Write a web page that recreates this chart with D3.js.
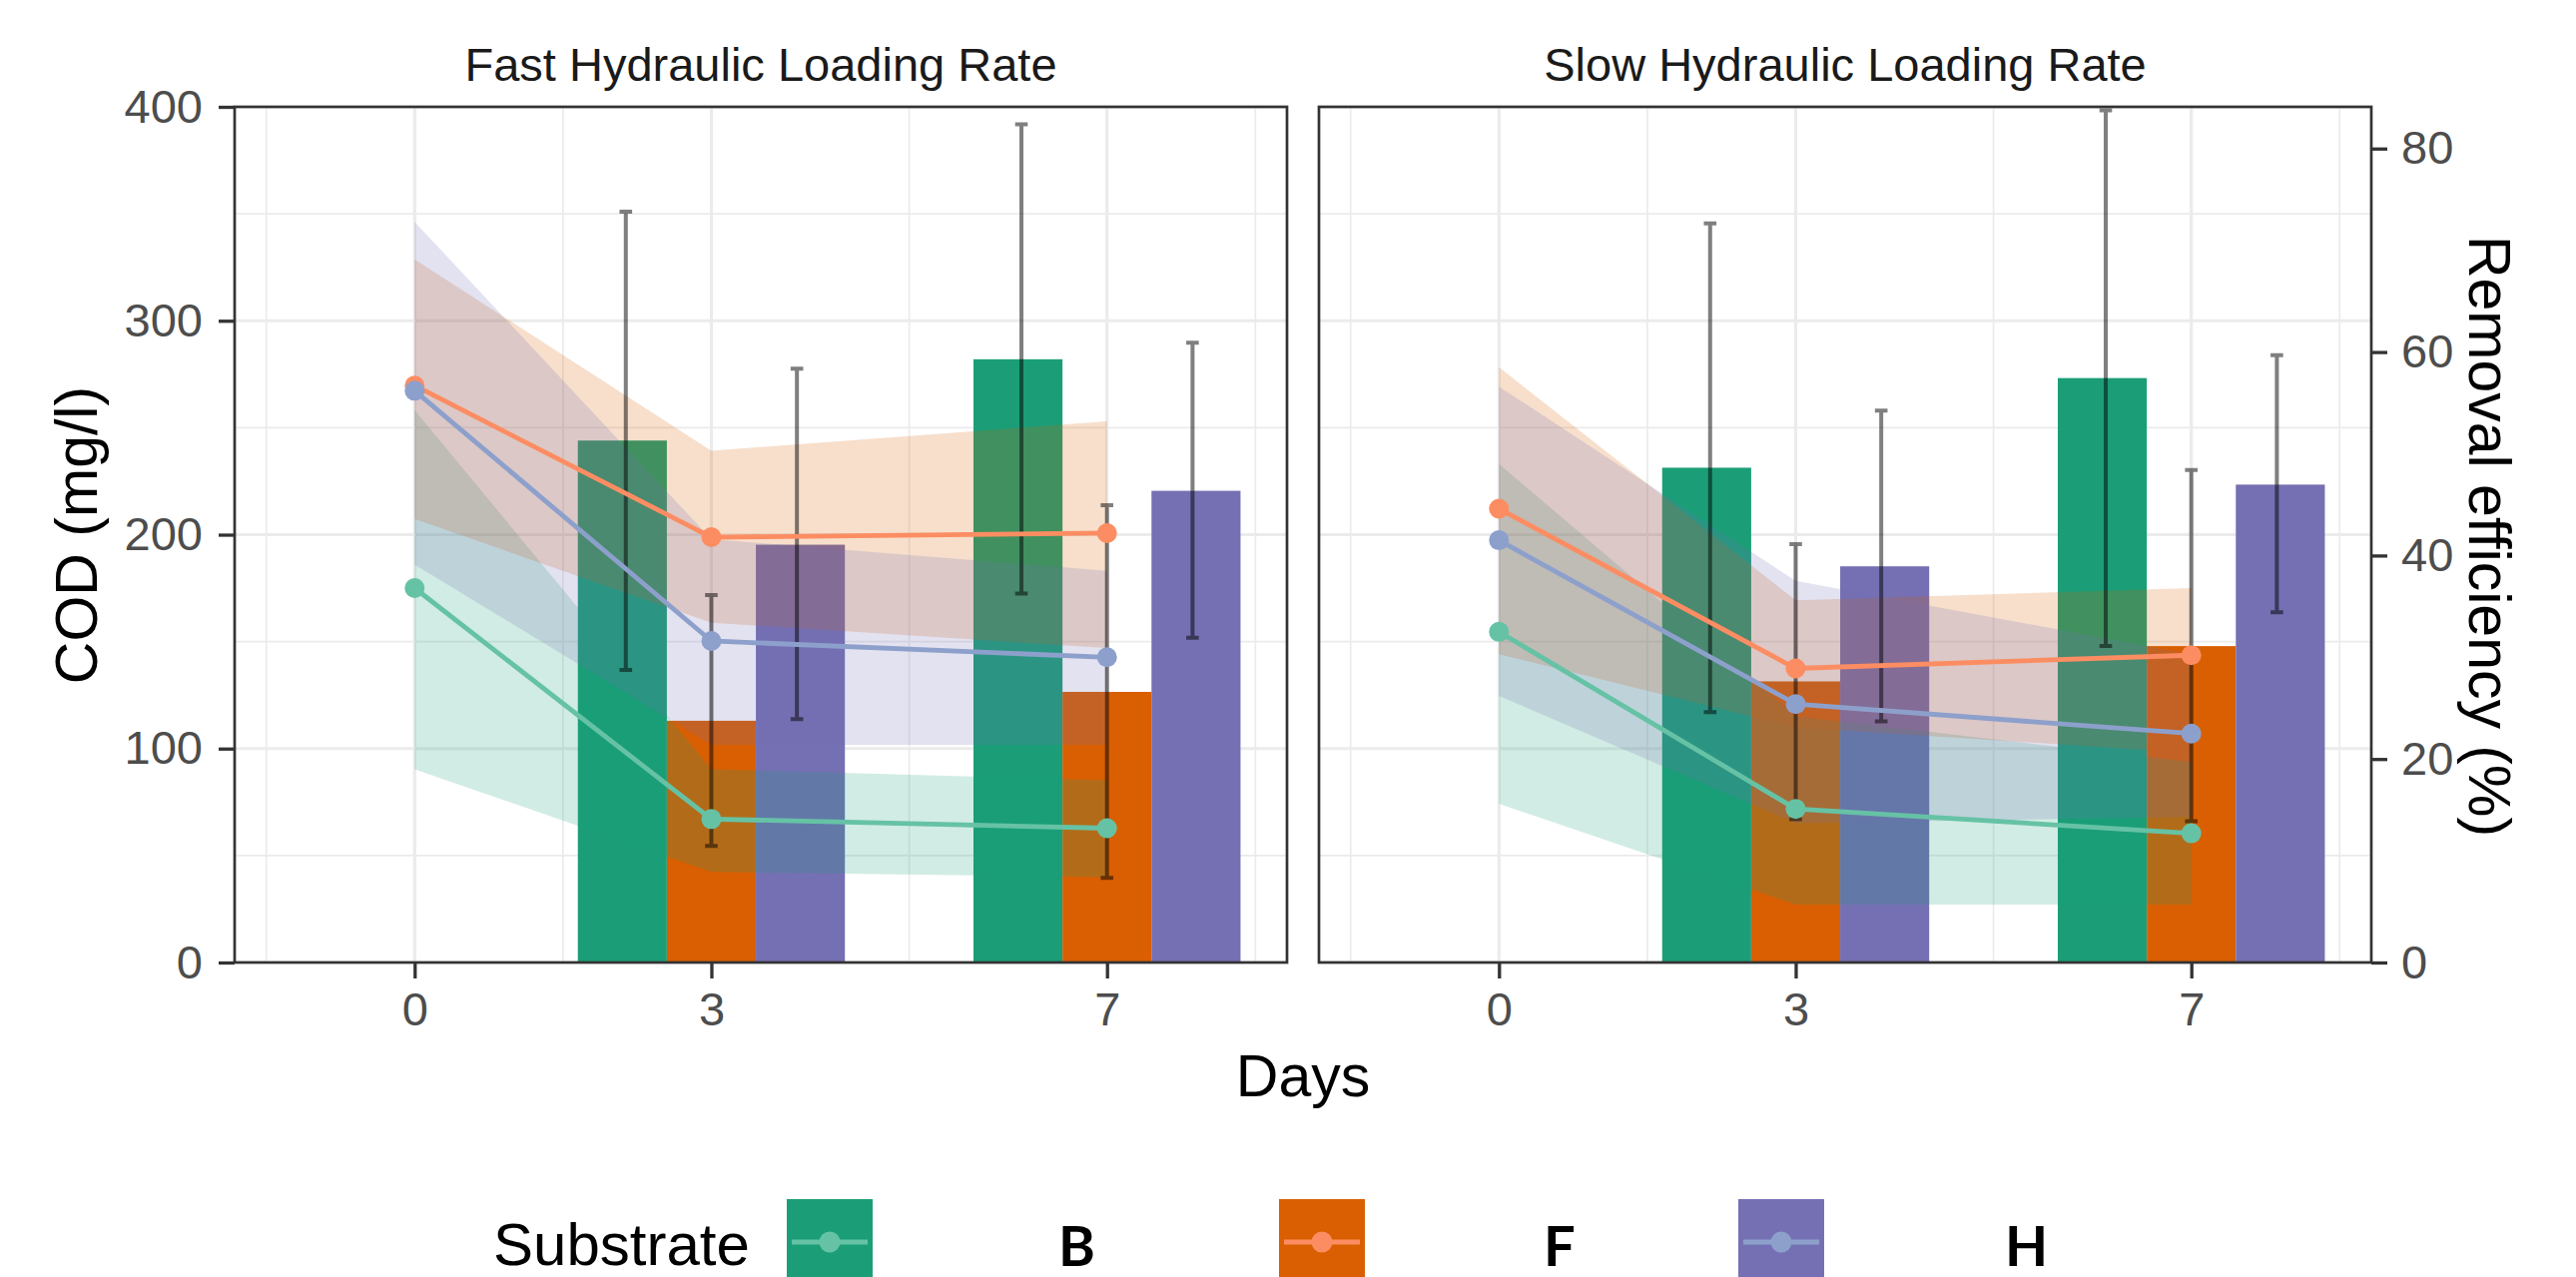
<!DOCTYPE html>
<html>
<head>
<meta charset="utf-8">
<script src="https://cdn.jsdelivr.net/npm/d3@7"></script>
<style>
  body { margin: 0; background: #ffffff; }
  svg { display: block; font-family: "Liberation Sans", Arial, sans-serif; }
</style>
</head>
<body>
<svg id="chart" width="2580" height="1279"></svg>
<script>
// Facets, categories and ticks
var facets = ['Fast Hydraulic Loading Rate', 'Slow Hydraulic Loading Rate'];
var substrates = ['B', 'F', 'H'];
var barDays = [3, 7];
var lineDays = [0, 3, 7];
var dayTicks = [0, 3, 7];
var dayMinor = [-1.5, 1.5, 5, 8.5];
var codTicks = [0, 100, 200, 300, 400];
var codMinor = [50, 150, 250, 350];
var effTicks = [0, 20, 40, 60, 80];

// COD bars (mg/l), one row per substrate, columns = barDays
var codFast = [[244, 282], [113, 126.5], [195.3, 220.5]];
var codSlow = [[231.3, 273.2], [131.4, 147.9], [185.2, 223.4]];
// error bar ends
var codLowFast = [[136.8, 172.5], [54.5, 39.6], [113.8, 151.8]];
var codHighFast = [[351, 391.8], [171.8, 213.8], [277.6, 289.7]];
var codLowSlow = [[117, 147.9], [67, 66.1], [112.7, 163.7]];
var codHighSlow = [[345.5, 398.4], [195.6, 230.2], [258, 283.9]];

// Removal efficiency (%), columns = lineDays
var effFast = [[36.8, 14.1, 13.2], [56.7, 41.8, 42.2], [56.2, 31.6, 30.0]];
var effSlow = [[32.5, 15.1, 12.7], [44.6, 28.9, 30.2], [41.5, 25.4, 22.5]];
// ribbon bands
var effLowFast = [[19.0, 8.9, 8.4], [43.6, 33.4, 30.9], [39.1, 21.4, 21.4]];
var effHighFast = [[54.3, 19.0, 17.9], [69.1, 50.3, 53.2], [72.8, 41.6, 38.5]];
var effLowSlow = [[15.6, 5.7, 5.7], [30.3, 23.1, 20.6], [26.2, 13.7, 14.3]];
var effHighSlow = [[49.0, 24.2, 19.7], [58.5, 35.6, 36.8], [56.6, 37.5, 30.3]];

var barColors = ['#1b9e77', '#d95f02', '#7570b3'];
var lineColors = ['#66c2a5', '#fc8d62', '#8da0cb'];

var panels = [
    { cod: codFast, lo: codLowFast, hi: codHighFast, eff: effFast, effLo: effLowFast, effHi: effHighFast, range: [235, 1289] },
    { cod: codSlow, lo: codLowSlow, hi: codHighSlow, eff: effSlow, effLo: effLowSlow, effHi: effHighSlow, range: [1321, 2375] }
];

var panelTop = 107, panelBottom = 964;
var svg = d3.select('#chart');

var y = d3.scaleLinear().domain([0, 400]).range([panelBottom, panelTop]);
var yEff = d3.scaleLinear().domain([0, 84.1]).range([panelBottom, panelTop]);

var barWidth = 0.9;     // in days
var errDodge = 0.865;   // errorbars dodge slightly narrower than bars

panels.forEach(function(p, i) {
    var x = d3.scaleLinear().domain([-1.82, 8.82]).range(p.range);
    var g = svg.append('g');

    svg.append('clipPath').attr('id', 'clip' + i)
        .append('rect')
        .attr('x', p.range[0]).attr('y', panelTop)
        .attr('width', p.range[1] - p.range[0]).attr('height', panelBottom - panelTop);

    var plot = g.append('g').attr('clip-path', 'url(#clip' + i + ')');

    // grid
    plot.selectAll('.hminor').data(codMinor).join('line')
        .attr('x1', p.range[0]).attr('x2', p.range[1])
        .attr('y1', d => y(d)).attr('y2', d => y(d))
        .attr('stroke', '#ebebeb').attr('stroke-width', 1.7);
    plot.selectAll('.vminor').data(dayMinor).join('line')
        .attr('x1', d => x(d)).attr('x2', d => x(d))
        .attr('y1', panelTop).attr('y2', panelBottom)
        .attr('stroke', '#ebebeb').attr('stroke-width', 1.7);
    plot.selectAll('.hmajor').data(codTicks).join('line')
        .attr('x1', p.range[0]).attr('x2', p.range[1])
        .attr('y1', d => y(d)).attr('y2', d => y(d))
        .attr('stroke', '#ebebeb').attr('stroke-width', 3.2);
    plot.selectAll('.vmajor').data(dayTicks).join('line')
        .attr('x1', d => x(d)).attr('x2', d => x(d))
        .attr('y1', panelTop).attr('y2', panelBottom)
        .attr('stroke', '#ebebeb').attr('stroke-width', 3.2);

    // bars
    var bars = [];
    p.cod.forEach(function(row, k) {
        row.forEach(function(v, j) {
            bars.push({ k: k, day: barDays[j], v: v, lo: p.lo[k][j], hi: p.hi[k][j] });
        });
    });
    plot.selectAll('rect.bar').data(bars).join('rect')
        .attr('class', 'bar')
        .attr('x', d => x(d.day + (d.k - 1) * barWidth - barWidth / 2))
        .attr('width', x(barWidth) - x(0))
        .attr('y', d => y(d.v))
        .attr('height', d => y(0) - y(d.v))
        .attr('fill', d => barColors[d.k]);

    // ribbons (dark palette, light alpha)
    var area = d3.area()
        .x(d => x(d.day))
        .y0(d => yEff(d.lo))
        .y1(d => yEff(d.hi));
    substrates.forEach(function(s, k) {
        var pts = lineDays.map((day, j) => ({ day: day, lo: p.effLo[k][j], hi: p.effHi[k][j] }));
        plot.append('path').datum(pts)
            .attr('d', area)
            .attr('fill', barColors[k])
            .attr('fill-opacity', 0.2);
    });

    // error bars
    var cap = 6.3;
    plot.selectAll('path.err').data(bars).join('path')
        .attr('class', 'err')
        .attr('d', function(d) {
            var cx = x(d.day + (d.k - 1) * errDodge);
            var y0 = y(d.lo), y1 = y(d.hi);
            return 'M' + (cx - cap) + ',' + y1 + 'H' + (cx + cap) +
                'M' + cx + ',' + y1 + 'V' + y0 +
                'M' + (cx - cap) + ',' + y0 + 'H' + (cx + cap);
        })
        .attr('fill', 'none')
        .attr('stroke', '#000000')
        .attr('stroke-opacity', 0.5)
        .attr('stroke-width', 4);

    // lines and points
    var line = d3.line().x(d => x(d.day)).y(d => yEff(d.v));
    substrates.forEach(function(s, k) {
        var pts = lineDays.map((day, j) => ({ day: day, v: p.eff[k][j] }));
        plot.append('path').datum(pts)
            .attr('d', line)
            .attr('fill', 'none')
            .attr('stroke', lineColors[k])
            .attr('stroke-width', 4.8);
        plot.selectAll('circle.s' + k).data(pts).join('circle')
            .attr('class', 's' + k)
            .attr('cx', d => x(d.day))
            .attr('cy', d => yEff(d.v))
            .attr('r', 10)
            .attr('fill', lineColors[k]);
    });

    // border
    g.append('rect')
        .attr('x', p.range[0]).attr('y', panelTop)
        .attr('width', p.range[1] - p.range[0]).attr('height', panelBottom - panelTop)
        .attr('fill', 'none').attr('stroke', '#333333').attr('stroke-width', 2.7);

    // facet title
    g.append('text')
        .attr('x', (p.range[0] + p.range[1]) / 2)
        .attr('y', 81)
        .attr('text-anchor', 'middle')
        .attr('font-size', '47px')
        .attr('fill', '#1a1a1a')
        .text(facets[i]);

    // x axis
    var xAxis = g.append('g')
        .attr('transform', 'translate(0,' + panelBottom + ')')
        .call(d3.axisBottom(x).tickValues(dayTicks).tickSize(16).tickPadding(14).tickFormat(d3.format('d')));
    styleAxis(xAxis);

    if (i === 0) {
        var yAxis = g.append('g')
            .attr('transform', 'translate(' + p.range[0] + ',0)')
            .call(d3.axisLeft(y).tickValues(codTicks).tickSize(16).tickPadding(16));
        styleAxis(yAxis);
    } else {
        var rAxis = g.append('g')
            .attr('transform', 'translate(' + p.range[1] + ',0)')
            .call(d3.axisRight(yEff).tickValues(effTicks).tickSize(16).tickPadding(14));
        styleAxis(rAxis);
    }
});

function styleAxis(a) {
    a.select('.domain').remove();
    a.selectAll('.tick line').attr('stroke', '#333333').attr('stroke-width', 3.3);
    a.selectAll('.tick text')
        .attr('font-size', '47px')
        .attr('font-family', '"Liberation Sans", Arial, sans-serif')
        .attr('fill', '#4d4d4d');
}

// axis titles
svg.append('text')
    .attr('transform', 'translate(97,536) rotate(-90)')
    .attr('text-anchor', 'middle')
    .attr('font-size', '59px')
    .attr('fill', '#000000')
    .text('COD (mg/l)');

svg.append('text')
    .attr('transform', 'translate(2473,537) rotate(90)')
    .attr('text-anchor', 'middle')
    .attr('font-size', '59px')
    .attr('fill', '#000000')
    .text('Removal efficiency (%)');

svg.append('text')
    .attr('x', 1305).attr('y', 1098)
    .attr('text-anchor', 'middle')
    .attr('font-size', '59px')
    .attr('fill', '#000000')
    .text('Days');

// legend
var keyX = [788, 1281, 1741];
var labelX = [1060, 1546, 2008];
var keySize = 86, keyTop = 1201;

svg.append('text')
    .attr('x', 494).attr('y', 1267)
    .attr('font-size', '60px')
    .attr('fill', '#000000')
    .text('Substrate');

var legend = svg.selectAll('g.key').data(substrates).join('g').attr('class', 'key');
legend.append('rect')
    .attr('x', (d, k) => keyX[k]).attr('y', keyTop)
    .attr('width', keySize).attr('height', keySize)
    .attr('fill', (d, k) => barColors[k]);
legend.append('line')
    .attr('x1', (d, k) => keyX[k] + 5).attr('x2', (d, k) => keyX[k] + keySize - 5)
    .attr('y1', keyTop + 43).attr('y2', keyTop + 43)
    .attr('stroke', (d, k) => lineColors[k])
    .attr('stroke-width', 5);
legend.append('circle')
    .attr('cx', (d, k) => keyX[k] + keySize / 2).attr('cy', keyTop + 43)
    .attr('r', 10.5)
    .attr('fill', (d, k) => lineColors[k]);
legend.append('text')
    .attr('x', (d, k) => labelX[k]).attr('y', 1268)
    .attr('font-family', 'Lato, "Open Sans", sans-serif')
    .attr('font-weight', 'bold')
    .attr('font-size', '56px')
    .attr('fill', '#000000')
    .text(d => d);
</script>
</body>
</html>
